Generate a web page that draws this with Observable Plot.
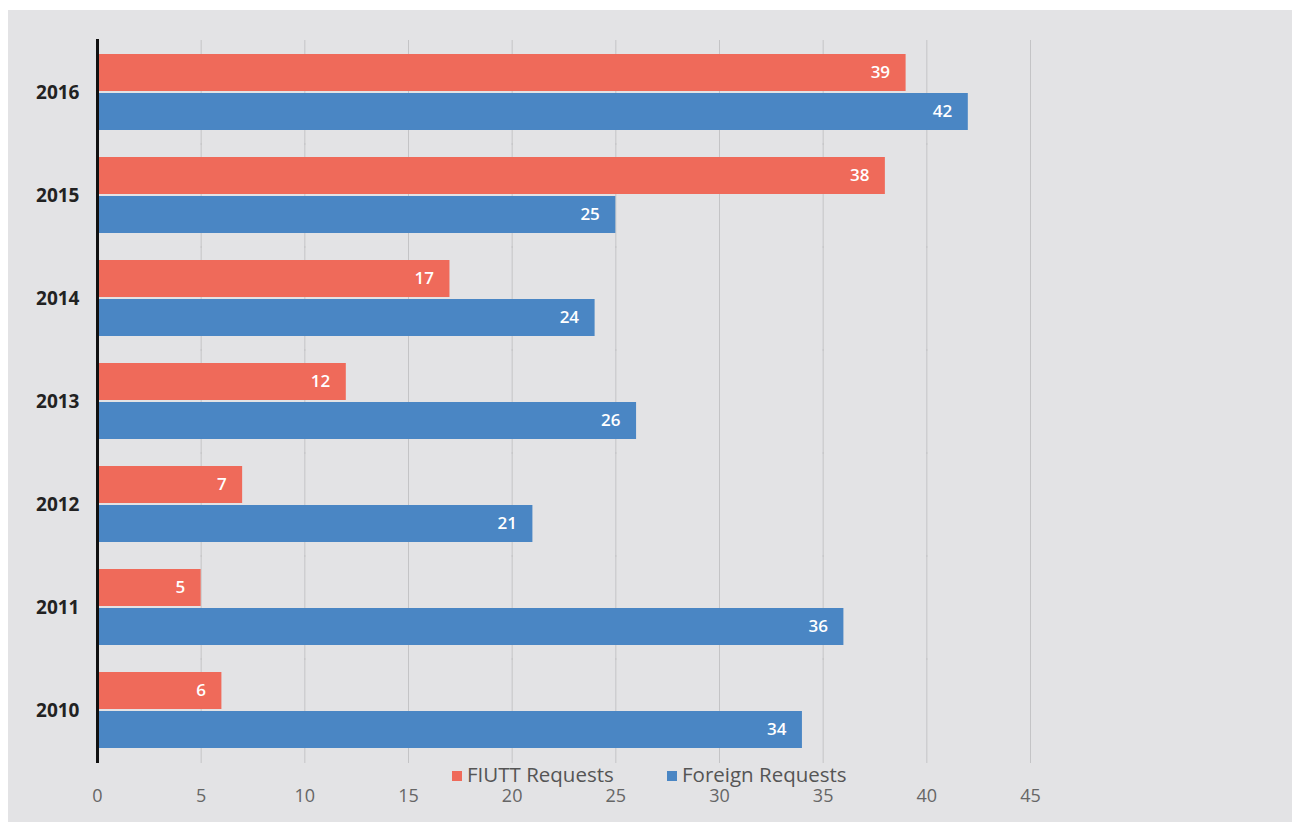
<!DOCTYPE html>
<html>
<head>
<meta charset="utf-8">
<script src="https://cdn.jsdelivr.net/npm/d3@7"></script>
<script src="https://cdn.jsdelivr.net/npm/@observablehq/plot@0.6"></script>
<style>
  html, body { margin: 0; padding: 0; background: #ffffff; width: 1300px; height: 827px; overflow: hidden; }
  #wrap { position: absolute; left: 8px; top: 10px; }
  #legend { position: absolute; left: 452px; top: 760px; font-family: "Open Sans", sans-serif; font-size: 20.5px; color: #555; white-space: nowrap; }
  #legend span.item { position: absolute; top: 0; }
  #legend span.sw { display: inline-block; width: 10px; height: 10px; margin-right: 5px; vertical-align: 1px; }
</style>
</head>
<body>
<div id="wrap"></div>
<div id="legend">
  <span class="item" style="left:0px"><span class="sw" style="background:#ef6a5a"></span>FIUTT Requests</span>
  <span class="item" style="left:215px"><span class="sw" style="background:#4a86c4"></span>Foreign Requests</span>
</div>
<script>
const years = ["2016", "2015", "2014", "2013", "2012", "2011", "2010"];
const seriesNames = ["FIUTT Requests", "Foreign Requests"];
const fiutt = [39, 38, 17, 12, 7, 5, 6];
const foreign = [42, 25, 24, 26, 21, 36, 34];
const xTicks = [0, 5, 10, 15, 20, 25, 30, 35, 40, 45];
const colors = ["#ef6a5a", "#4a86c4"];

const rows = [];
years.forEach((y, i) => {
  rows.push({year: y, series: seriesNames[0], value: fiutt[i]});
  rows.push({year: y, series: seriesNames[1], value: foreign[i]});
});

const chart = Plot.plot({
  width: 1284,
  height: 812,
  marginLeft: 89,
  marginRight: 262,
  marginTop: 28,
  marginBottom: 57,
  style: {background: "#e3e3e5", fontFamily: "Open Sans, sans-serif", overflow: "visible"},
  x: {domain: [0, 45], axis: null},
  fy: {domain: years, paddingInner: 0.25, paddingOuter: 0.125, label: null, axis: null},
  y: {domain: seriesNames, axis: null, paddingInner: 0.04, paddingOuter: 0},
  color: {domain: seriesNames, range: colors},
  marks: [
    Plot.ruleX(xTicks.slice(1), {stroke: "#c4c4c6", strokeWidth: 1, insetTop: -14, insetBottom: -14}),
    Plot.barX(rows, {fy: "year", y: "series", x: "value", fill: "series"}),
    Plot.text(rows, {fy: "year", y: "series", x: "value", text: d => String(d.value), textAnchor: "end", dx: -16, fill: "white", fontSize: 17, fontWeight: 600}),
    Plot.ruleX([0], {stroke: "#111", strokeWidth: 3, insetTop: -15, insetBottom: -14}),
    Plot.axisFy({anchor: "left", tickSize: 0, tickPadding: 18, fontSize: 19, fontWeight: 700, color: "#222", label: null}),
    Plot.axisX({ticks: xTicks, anchor: "bottom", tickSize: 0, tickPadding: 40, fontSize: 18, color: "#666", label: null})
  ]
});
document.getElementById("wrap").appendChild(chart);
</script>
</body>
</html>
